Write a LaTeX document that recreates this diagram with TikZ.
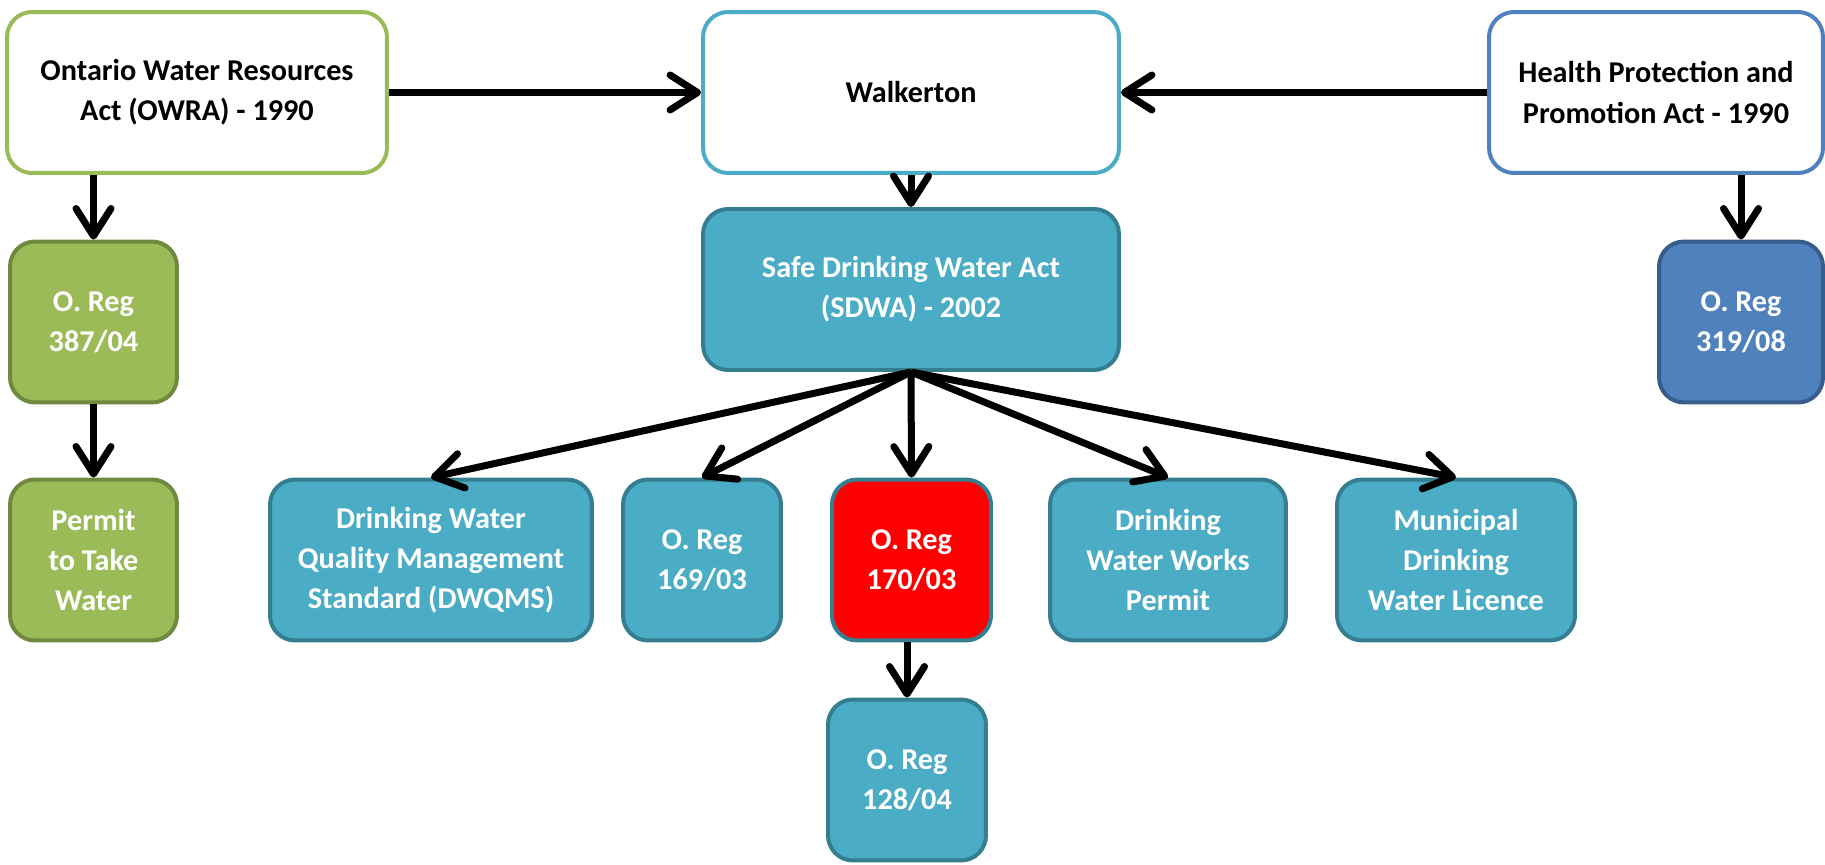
\documentclass[tikz,border=0pt]{standalone}
\usepackage{fontspec}
\setmainfont{Carlito}
\usetikzlibrary{arrows.meta}

\definecolor{owragreen}{HTML}{9BBB59}
\definecolor{owradark}{HTML}{71893F}
\definecolor{walkaqua}{HTML}{4BACC6}
\definecolor{walkdark}{HTML}{357D91}
\definecolor{hppablue}{HTML}{4F81BD}
\definecolor{hppadark}{HTML}{385D8A}
\definecolor{bigred}{HTML}{FF0000}

\tikzset{
  box/.style={rounded corners=0.5cm, line width=0.08cm, align=center, inner sep=0pt,
    minimum height=3.22cm, font=\fontsize{17.2}{22.8}\selectfont\bfseries},
  actbox/.style={box, draw=#1, fill=white, text=black},
  regbox/.style={box, draw=#1, text=white},
  link/.style={line width=0.14cm, -{Straight Barb[round, length=0.55cm, width=0.7cm]}}
}

\begin{document}
\begin{tikzpicture}[x=0.02cm, y=-0.02cm]
  \useasboundingbox (0,0) rectangle (1825,865);

  % acts
  \path ( 197, 92.5) node[actbox=owragreen, minimum width=7.6cm] (owra) {Ontario Water Resources\\Act (OWRA) - 1990};
  \path ( 911, 92.5) node[actbox=walkaqua, minimum width=8.32cm] (walk) {Walkerton};
  \path (1656, 92.5) node[actbox=hppablue, minimum width=6.68cm] (hppa) {Health Protection and\\Promotion Act - 1990};
  \path ( 911, 289.5) node[regbox=walkdark, fill=walkaqua, minimum width=8.32cm] (sdwa) {Safe Drinking Water Act\\(SDWA) - 2002};

  % regulations
  \path (  93.5, 322) node[regbox=owradark, fill=owragreen, minimum width=3.34cm] (r387) {O. Reg\\387/04};
  \path (  93.5, 560) node[regbox=owradark, fill=owragreen, minimum width=3.34cm] (ptw) {Permit\\to Take\\Water};
  \path (1741, 322) node[regbox=hppadark, fill=hppablue, minimum width=3.28cm] (r319) {O. Reg\\319/08};
  \path ( 431, 560) node[regbox=walkdark, fill=walkaqua, minimum width=6.44cm] (dwqms) {Drinking Water\\Quality Management\\Standard (DWQMS)};
  \path ( 702, 560) node[regbox=walkdark, fill=walkaqua, minimum width=3.16cm] (r169) {O. Reg\\169/03};
  \path ( 911.5, 560) node[regbox=walkdark, fill=bigred, minimum width=3.18cm] (r170) {O. Reg\\170/03};
  \path (1168, 560) node[regbox=walkdark, fill=walkaqua, minimum width=4.72cm] (dwwp) {Drinking\\Water Works\\Permit};
  \path (1456, 560) node[regbox=walkdark, fill=walkaqua, minimum width=4.76cm] (mdwl) {Municipal\\Drinking\\Water Licence};
  \path ( 907, 780) node[regbox=walkdark, fill=walkaqua, minimum width=3.16cm] (r128) {O. Reg\\128/04};

  % links
  \draw[link] (owra.east) -- (walk.west);
  \draw[link] (hppa.west) -- (walk.east);
  \draw[link] (walk.south) -- (sdwa.north);
  \draw[link] (r387.north |- owra.south) -- (r387.north);
  \draw[link] (r387.south) -- (ptw.north);
  \draw[link] (r319.north |- hppa.south) -- (r319.north);
  \foreach \reg in {dwqms, r169, r170, dwwp, mdwl}
    \draw[link] (sdwa.south) -- (\reg.north);
  \draw[link] (r128.north |- r170.south) -- (r128.north);
\end{tikzpicture}
\end{document}
